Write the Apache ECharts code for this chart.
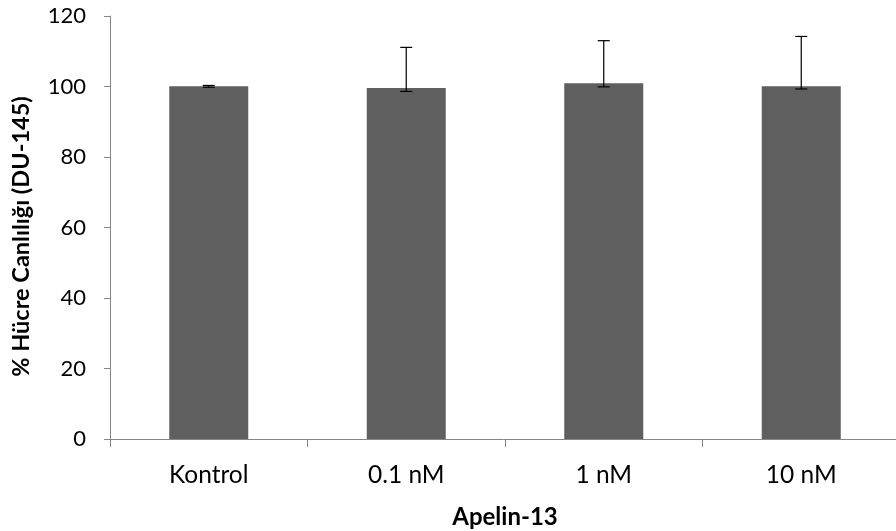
<!DOCTYPE html>
<html><head><meta charset="utf-8">
<script src="https://cdn.jsdelivr.net/npm/echarts@6/dist/echarts.min.js"></script>
<style>html,body{margin:0;padding:0;background:#fff}#c{width:896px;height:531px}</style>
</head><body><div id="c"></div>
<script>
const categories = ['Kontrol', '0.1 nM', '1 nM', '10 nM'];
const values = [100.1, 99.6, 100.9, 100.1];
const errLow = [99.8, 98.6, 99.9, 99.3];
const errHigh = [100.3, 111.1, 113.0, 114.2];
const yTicks = [0, 20, 40, 60, 80, 100, 120];

const font = 'Lato, "Open Sans", sans-serif';
const chart = echarts.init(document.getElementById('c'));
chart.setOption({
  animation: false,
  grid: { left: 110, right: -4, top: 16, bottom: 92, containLabel: false, outerBoundsMode: 'none' },
  xAxis: {
    type: 'category', data: categories,
    name: 'Apelin-13', nameLocation: 'middle', nameGap: 66,
    nameTextStyle: { fontFamily: font, fontWeight: 'bold', fontSize: 24, color: '#000' },
    axisLine: { lineStyle: { color: '#868686' } },
    axisTick: { show: true, length: 8, lineStyle: { color: '#868686' } },
    axisLabel: { fontFamily: font, fontSize: 24.5, color: '#000', margin: 24 }
  },
  yAxis: {
    type: 'value', min: yTicks[0], max: yTicks[yTicks.length - 1], interval: 20,
    name: '% Hücre Canlılığı (DU-145)', nameLocation: 'middle', nameGap: 77,
    nameTextStyle: { fontFamily: font, fontWeight: 'bold', fontSize: 23.5, color: '#000', padding: [0, 18, 0, 0] },
    axisLine: { show: true, lineStyle: { color: '#868686' } },
    axisTick: { show: true, length: 6, lineStyle: { color: '#868686' } },
    splitLine: { show: false },
    axisLabel: { fontFamily: font, fontSize: 22, color: '#000', margin: 24 }
  },
  series: [
    {
      type: 'bar', data: values, barWidth: '40%',
      itemStyle: { color: '#5f5f5f' }
    },
    {
      type: 'custom',
      data: categories.map((c, i) => [i, errLow[i], errHigh[i]]),
      renderItem: function (params, api) {
        const x = api.value(0);
        const lo = api.coord([x, api.value(1)]);
        const hi = api.coord([x, api.value(2)]);
        const hw = 6;
        const st = { stroke: '#000', lineWidth: 1.2 };
        return {
          type: 'group', children: [
            { type: 'line', shape: { x1: lo[0], y1: lo[1], x2: hi[0], y2: hi[1] }, style: st },
            { type: 'line', shape: { x1: hi[0] - hw, y1: hi[1], x2: hi[0] + hw, y2: hi[1] }, style: st },
            { type: 'line', shape: { x1: lo[0] - hw, y1: lo[1], x2: lo[0] + hw, y2: lo[1] }, style: st }
          ]
        };
      },
      z: 10
    }
  ]
});
</script></body></html>
